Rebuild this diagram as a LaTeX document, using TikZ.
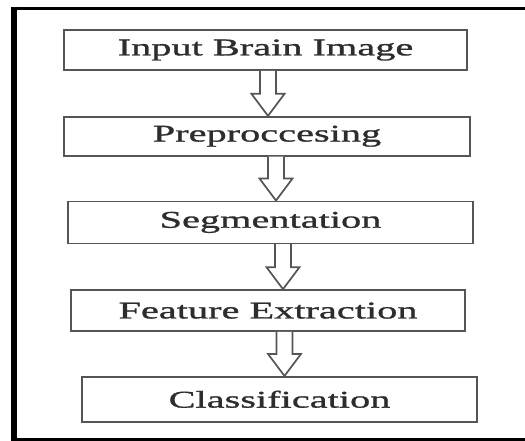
\documentclass[tikz,border=0pt]{standalone}
\usepackage{fontspec}
\usepackage{tikz}
\usetikzlibrary{positioning, calc}
\newfontfamily\stagefont[FakeStretch=1.68, FakeBold=1.2]{Liberation Serif}
\definecolor{boxgray}{RGB}{85,85,85}
\definecolor{txtgray}{RGB}{45,45,45}
\tikzset{
  stage/.style={rectangle, draw=boxgray, line width=1.7pt, inner sep=0pt,
    font=\stagefont\fontsize{24}{28}\selectfont, text=txtgray},
  hollow/.style={draw=boxgray, line width=1.7pt, fill=white, line join=miter},
  frameline/.style={draw=black}
}
% hollow block arrow: from, to, horizontal offset
\newcommand{\flowarrow}[3]{%
  \draw[hollow] let \p1=(#1.south), \p2=(#2.north) in
    (\x1+#3-8pt,\y1) -- (\x1+#3-8pt,\y2+22pt) -- (\x1+#3-16.5pt,\y2+22pt)
    -- (\x1+#3,\y2) -- (\x1+#3+16.5pt,\y2+22pt) -- (\x1+#3+8pt,\y2+22pt)
    -- (\x1+#3+8pt,\y1);}
\begin{document}
\begin{tikzpicture}[x=1pt, y=1pt]
  \useasboundingbox (0,0) rectangle (525,441);

  % outer frame
  \draw[frameline, line width=3pt] (530,432.5) -- (12,432.5);
  \draw[frameline, line width=3pt] (12,1.5) -- (530,1.5);
  \draw[frameline, line width=5.5pt] (13.75,434) -- (13.75,0);

  % stages
  \node[stage, minimum width=403pt, minimum height=40pt] (input) at (265.5,391) {Input Brain Image};
  \node[stage, minimum width=406pt, minimum height=39pt, below=45pt of input, xshift=1.5pt] (prep) {Preproccesing};
  \node[stage, minimum width=405pt, minimum height=42pt, below=44pt of prep, xshift=3.5pt] (seg) {Segmentation};
  \node[stage, minimum width=394pt, minimum height=41pt, below=45pt of seg, xshift=-2.5pt] (feat) {Feature Extraction};
  \node[stage, minimum width=395pt, minimum height=45pt, below=44pt of feat, xshift=11.5pt] (cls) {Classification};

  % arrows
  \flowarrow{input}{prep}{2.5pt}
  \flowarrow{prep}{seg}{9pt}
  \flowarrow{seg}{feat}{12.5pt}
  \flowarrow{feat}{cls}{16.5pt}
\end{tikzpicture}
\end{document}
